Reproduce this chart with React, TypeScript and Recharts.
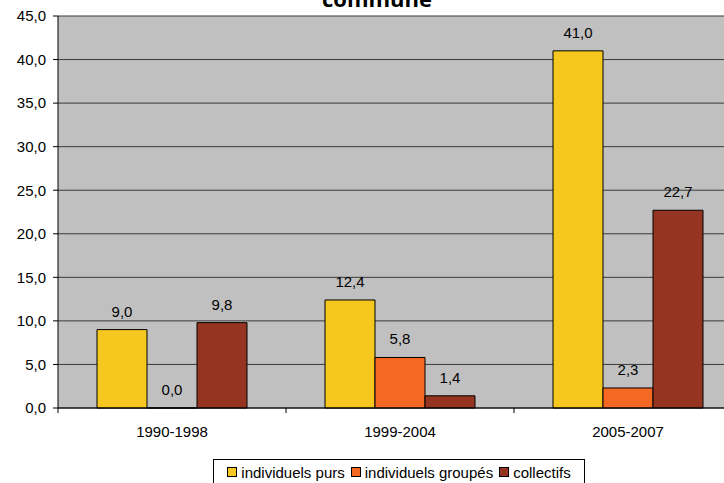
import React from "react";
import {
  Bar, BarChart, CartesianGrid, LabelList, XAxis, YAxis,
} from "recharts";

const periods = ["1990-1998", "1999-2004", "2005-2007"];
const individuelsPurs = [9.0, 12.4, 41.0];
const individuelsGroupes = [0.0, 5.8, 2.3];
const collectifs = [9.8, 1.4, 22.7];
const yTicks = [0, 5, 10, 15, 20, 25, 30, 35, 40, 45];

const series = [
  { key: "purs", name: "individuels purs", color: "#F5C71F", values: individuelsPurs },
  { key: "groupes", name: "individuels groupés", color: "#F46824", values: individuelsGroupes },
  { key: "collectifs", name: "collectifs", color: "#953420", values: collectifs },
];

const data = periods.map((p, i) => ({
  period: p,
  purs: individuelsPurs[i],
  groupes: individuelsGroupes[i],
  collectifs: collectifs[i],
}));

const CHART_W = 742;
const CHART_H = 483;
const Y_W = 58;
const BAND = (CHART_W - Y_W) / periods.length;
const FONT = "'Liberation Sans', Arial, sans-serif";

const fmt = (v: number) => v.toFixed(1).replace(".", ",");

function PeriodTick(props: any) {
  const { x, y, payload, index } = props;
  const axisY = y - 5 - 13;
  return (
    <g>
      {index === 0 && (
        <line x1={x - BAND / 2} x2={x - BAND / 2} y1={axisY} y2={axisY + 5} stroke="#000" />
      )}
      <line x1={x + BAND / 2} x2={x + BAND / 2} y1={axisY} y2={axisY + 5} stroke="#000" />
      <text x={x} y={y} dy="0.71em" textAnchor="middle" fontSize={15} fill="#000" fontFamily={FONT}>
        {payload.value}
      </text>
    </g>
  );
}

function ValueLabel(props: any) {
  const { x, y, width, height, value } = props;
  if (value == null) return null;
  const top = Math.min(Number(y), Number(y) + Number(height));
  return (
    <text x={Number(x) + Number(width) / 2} y={top - 13} textAnchor="middle" fontSize={15} fill="#000" fontFamily={FONT}>
      {fmt(Number(value))}
    </text>
  );
}

export default function App() {
  return (
    <div style={{ position: "absolute", left: 0, top: 0, width: 724, height: 483, overflow: "hidden", background: "#fff" }}>
      <div
        style={{
          position: "absolute", left: 0, width: 754, top: -17, textAlign: "center",
          fontFamily: "'Open Sans', sans-serif", fontWeight: 700, fontSize: 22, color: "#000",
        }}
      >
        commune
      </div>
      <BarChart
        width={CHART_W}
        height={CHART_H}
        data={data}
        margin={{ top: 16, right: 0, bottom: 45, left: 0 }}
        barCategoryGap={39}
        barGap={0}
        style={{ fontFamily: FONT }}
      >
        <CartesianGrid vertical={false} stroke="#3a3a3a" fill="#C0C0C0" fillOpacity={1} />
        <XAxis
          dataKey="period"
          axisLine={{ stroke: "#000" }}
          tickLine={false}
          tickSize={5}
          tickMargin={13}
          height={30}
          interval={0}
          tick={<PeriodTick />}
        />
        <YAxis
          width={Y_W}
          domain={[0, 45]}
          ticks={yTicks}
          interval={0}
          tickFormatter={fmt}
          axisLine={{ stroke: "#000" }}
          tickLine={{ stroke: "#000" }}
          tickSize={5}
          tickMargin={7}
          tick={{ fill: "#000", fontSize: 15 }}
        />
        {series.map((s) => (
          <Bar
            key={s.key}
            dataKey={s.key}
            name={s.name}
            fill={s.color}
            stroke="#000"
            strokeWidth={1}
            minPointSize={0.01}
            isAnimationActive={false}
          >
            <LabelList dataKey={s.key} content={<ValueLabel />} />
          </Bar>
        ))}
      </BarChart>
      <div
        style={{
          position: "absolute", left: 213, top: 459, width: 372, height: 28,
          border: "1px solid #000", background: "#fff", display: "flex", alignItems: "center",
          justifyContent: "center", fontFamily: FONT, fontSize: 15, color: "#000", boxSizing: "border-box",
          paddingBottom: 2,
        }}
      >
        {series.map((s, i) => (
          <span key={s.key} style={{ display: "inline-flex", alignItems: "center", marginRight: i < series.length - 1 ? 6 : 0 }}>
            <span style={{ display: "inline-block", width: 8, height: 8, background: s.color, border: "1px solid #000", marginRight: 4 }} />
            {s.name}
          </span>
        ))}
      </div>
    </div>
  );
}
